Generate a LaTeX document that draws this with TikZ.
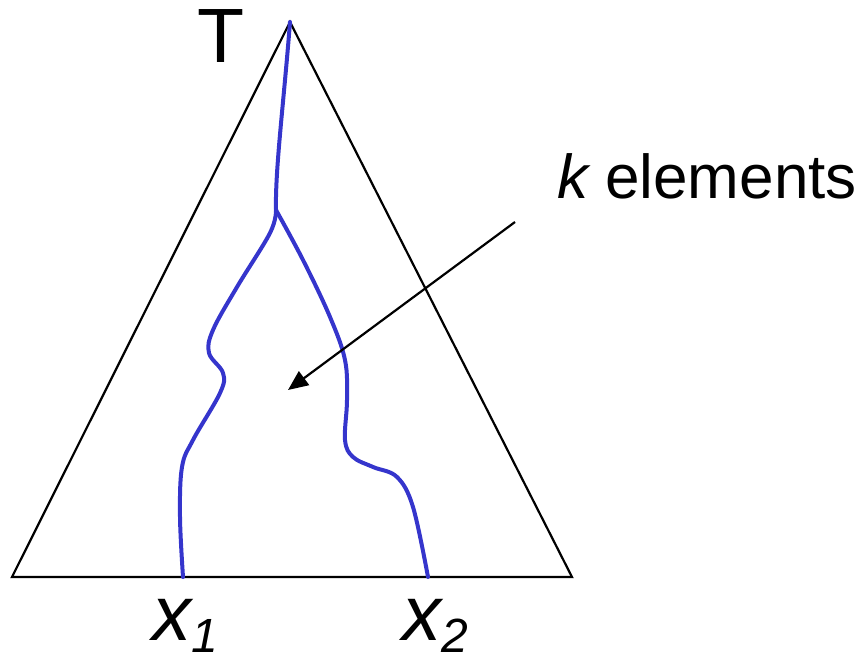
\documentclass[tikz,border=0pt]{standalone}
\usepackage{fontspec}
\setmainfont{Liberation Sans}
\usetikzlibrary{arrows.meta}
\definecolor{pathblue}{HTML}{3535CC}
\tikzset{
  tri/.style={draw=black, line width=2.2pt, line join=miter},
  bluepath/.style={draw=pathblue, line width=4pt, line cap=round, line join=round},
  ptr/.style={draw=black, line width=2.2pt, -{Triangle[length=20pt,width=17pt]}},
  lbl/.style={anchor=base west, inner sep=0pt, outer sep=0pt}
}
\begin{document}
\begin{tikzpicture}[x=1pt,y=-1pt]
\useasboundingbox (0,0) rectangle (866,666);
\coordinate (apex) at (290,22);
\coordinate (bl) at (12,577);
\coordinate (br) at (572,577);
\draw[tri] (apex) -- (bl) -- (br) -- cycle;
% trunk and branches
\coordinate (split) at (276,210);
\draw[bluepath] (apex) .. controls (284,100) and (275,170) .. (split);
\draw[bluepath] plot[smooth, tension=0.6] coordinates {(276,210) (270,233) (237,287) (213,330) (209,353) (223,373) (220,393) (193,440) (182,467) (180,517) (183,577)};
\draw[bluepath] plot[smooth, tension=0.6] coordinates {(276,210) (303,260) (330,317) (345,360) (347,400) (345,440) (353,457) (373,467) (397,477) (413,507) (428,577)};
% labels
\node[lbl, font=\fontsize{77}{77}\selectfont] (T) at (197,63) {T};
\node[lbl, font=\fontsize{62}{62}\selectfont] (k) at (557,198) {\itshape k\upshape\ elements};
\node[lbl, font=\fontsize{78}{78}\selectfont\itshape] (x1) at (152,640) {x\raisebox{-12pt}{\fontsize{48}{48}\selectfont 1}};
\node[lbl, font=\fontsize{78}{78}\selectfont\itshape] (x2) at (402,640) {x\raisebox{-12pt}{\fontsize{48}{48}\selectfont 2}};
% arrow
\coordinate (arrfrom) at (515,222);
\coordinate (arrto) at (288,390);
\draw[ptr] (arrfrom) -- (arrto);
\end{tikzpicture}
\end{document}
